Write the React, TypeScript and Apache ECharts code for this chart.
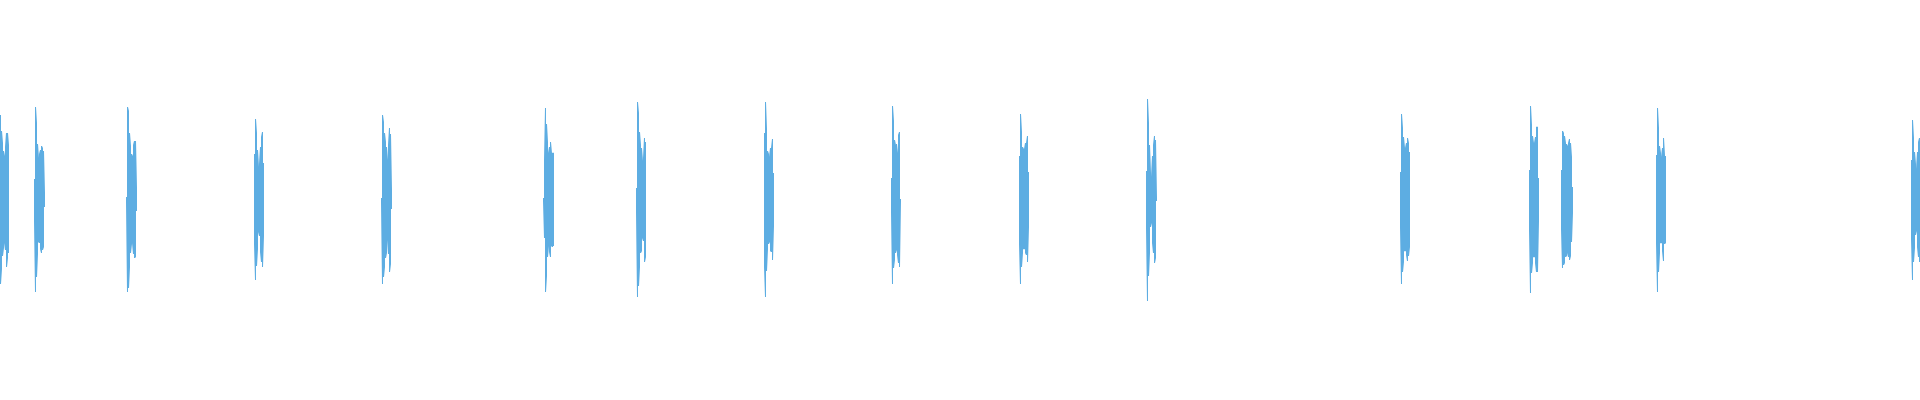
import React, { useEffect, useRef } from "react";
import * as echarts from "echarts";

// Sample index (column) at which each burst of the waveform begins
const burstStarts = [0, 34, 126, 254, 381, 543, 636, 764, 891, 1019, 1146, 1400, 1529, 1561, 1656, 1911];

// Positive excursion of the waveform per sample inside each burst
const burstPeaks = [
  [0.85, 0.69, 0.57, 0.49, 0.44, 0.53, 0.67, 0.67, 0.55],
  [0.21, 0.93, 0.77, 0.56, 0.42, 0.46, 0.5, 0.54, 0.52, 0.49, 0.07],
  [0.03, 0.93, 0.89, 0.67, 0.54, 0.46, 0.44, 0.55, 0.59, 0.59, 0.12],
  [0.46, 0.81, 0.67, 0.5, 0.33, 0.36, 0.53, 0.63, 0.68, 0.37],
  [0.02, 0.85, 0.78, 0.67, 0.58, 0.53, 0.4, 0.55, 0.72, 0.66, 0.1],
  [0.02, 0.4, 0.92, 0.76, 0.58, 0.47, 0.53, 0.58, 0.47, 0.47, 0.47],
  [0.12, 0.98, 0.87, 0.68, 0.55, 0.52, 0.39, 0.42, 0.62, 0.58],
  [0.67, 0.98, 0.71, 0.49, 0.46, 0.43, 0.52, 0.52, 0.61, 0.27],
  [0.22, 0.94, 0.79, 0.6, 0.55, 0.56, 0.47, 0.65, 0.68, 0.01],
  [0.44, 0.86, 0.68, 0.53, 0.51, 0.51, 0.57, 0.57, 0.64, 0.28],
  [0.29, 1.01, 0.77, 0.55, 0.27, 0.23, 0.44, 0.55, 0.64, 0.6, 0.02],
  [0.28, 0.86, 0.72, 0.63, 0.52, 0.52, 0.57, 0.62, 0.57, 0.48],
  [0.3, 0.94, 0.75, 0.64, 0.57, 0.57, 0.63, 0.73, 0.73, 0.22],
  [0.3, 0.69, 0.67, 0.64, 0.57, 0.56, 0.54, 0.57, 0.61, 0.57, 0.43, 0.13],
  [0.45, 0.92, 0.72, 0.54, 0.47, 0.43, 0.52, 0.62, 0.45, 0.44],
  [0.4, 0.8, 0.62, 0.48, 0.36, 0.31, 0.48, 0.58, 0.62],
];

// Negative excursion of the waveform per sample inside each burst
const burstTroughs = [
  [-0.84, -0.69, -0.56, -0.48, -0.43, -0.5, -0.67, -0.58, -0.53],
  [-0.21, -0.92, -0.77, -0.54, -0.42, -0.43, -0.49, -0.53, -0.5, -0.47, -0.07],
  [-0.02, -0.92, -0.88, -0.67, -0.53, -0.44, -0.43, -0.54, -0.58, -0.57, -0.11],
  [-0.44, -0.8, -0.66, -0.49, -0.32, -0.36, -0.52, -0.62, -0.67, -0.36],
  [-0.02, -0.84, -0.77, -0.67, -0.58, -0.53, -0.4, -0.54, -0.72, -0.64, -0.09],
  [-0.01, -0.38, -0.92, -0.76, -0.57, -0.46, -0.52, -0.57, -0.46, -0.47, -0.46],
  [-0.12, -0.97, -0.86, -0.67, -0.53, -0.51, -0.38, -0.41, -0.62, -0.57],
  [-0.67, -0.97, -0.71, -0.49, -0.44, -0.42, -0.51, -0.52, -0.6, -0.26],
  [-0.12, -0.84, -0.68, -0.6, -0.53, -0.5, -0.55, -0.63, -0.67, -0.01],
  [-0.44, -0.84, -0.67, -0.53, -0.49, -0.49, -0.53, -0.55, -0.62, -0.27],
  [-0.28, -1.01, -0.76, -0.53, -0.27, -0.23, -0.43, -0.53, -0.63, -0.58, -0.01],
  [-0.27, -0.84, -0.72, -0.62, -0.51, -0.51, -0.55, -0.61, -0.56, -0.47],
  [-0.3, -0.93, -0.73, -0.63, -0.57, -0.57, -0.63, -0.72, -0.72, -0.21],
  [-0.29, -0.68, -0.65, -0.63, -0.57, -0.56, -0.53, -0.57, -0.6, -0.56, -0.42, -0.13],
  [-0.43, -0.92, -0.72, -0.53, -0.43, -0.43, -0.51, -0.61, -0.44, -0.43],
  [-0.39, -0.8, -0.62, -0.48, -0.35, -0.31, -0.47, -0.57, -0.62],
];

const SAMPLE_COUNT = 1920;

function buildSeriesData() {
  const data: (number | string)[][] = [];
  burstStarts.forEach((start, b) => {
    const peaks = burstPeaks[b];
    const troughs = burstTroughs[b];
    peaks.forEach((p, i) => {
      const x = start + i + 0.5;
      if (i % 2 === 0) {
        data.push([x, p]);
        data.push([x, troughs[i]]);
      } else {
        data.push([x, troughs[i]]);
        data.push([x, p]);
      }
    });
    data.push([start + peaks.length + 1, "-"]);
  });
  return data;
}

export default function App() {
  const ref = useRef<HTMLDivElement>(null);

  useEffect(() => {
    if (!ref.current) return;
    const chart = echarts.init(ref.current, null, { renderer: "svg" });
    chart.setOption({
      animation: false,
      backgroundColor: "#ffffff",
      grid: { left: 0, right: 0, top: 0, bottom: 0 },
      xAxis: { type: "value", min: 0, max: SAMPLE_COUNT, show: false },
      yAxis: { type: "value", min: -2, max: 2, show: false },
      series: [
        {
          type: "line",
          data: buildSeriesData(),
          showSymbol: false,
          connectNulls: false,
          lineStyle: { width: 1, color: "#5dade2" },
          emphasis: { disabled: true },
        },
      ],
    });
    return () => chart.dispose();
  }, []);

  return (
    <div
      ref={ref}
      style={{ position: "fixed", left: 0, top: 0, width: 1920, height: 400 }}
    />
  );
}
